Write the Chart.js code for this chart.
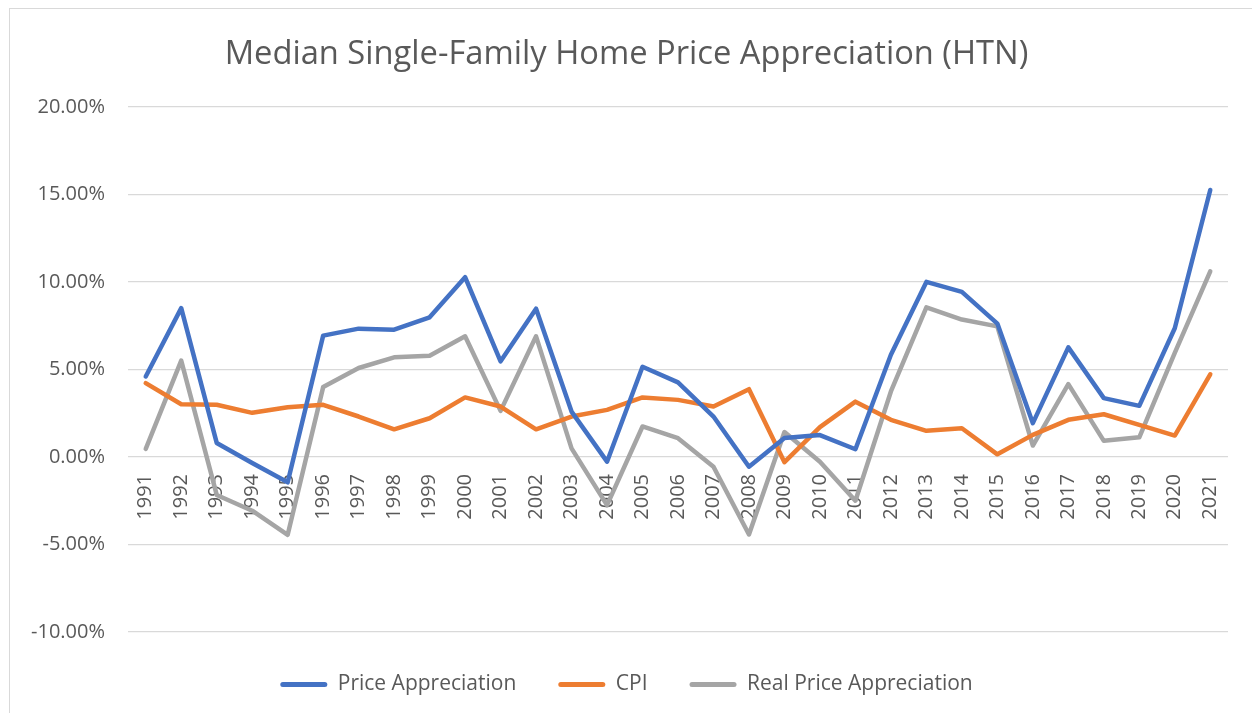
<!DOCTYPE html>
<html>
<head>
<meta charset="utf-8">
<script src="https://cdn.jsdelivr.net/npm/chart.js@4"></script>
<style>
  html, body { margin: 0; padding: 0; background: #fff; overflow: hidden; }
  #frame { position: absolute; left: 9px; top: 8px; width: 1400px; height: 900px; border: 1px solid #d9d9d9; }
  #wrap { position: absolute; left: 0; top: 0; width: 1252px; height: 713px; }
</style>
</head>
<body>
<div id="frame"></div>
<div id="wrap"><canvas id="chart" width="1252" height="713"></canvas></div>
<script>
// values in percent
const years = ["1991","1992","1993","1994","1995","1996","1997","1998","1999","2000",
  "2001","2002","2003","2004","2005","2006","2007","2008","2009","2010",
  "2011","2012","2013","2014","2015","2016","2017","2018","2019","2020","2021"];

const priceAppreciation = [4.6, 8.5, 0.8, -0.35, -1.45, 6.93, 7.33, 7.27, 7.98, 10.27,
  5.46, 8.47, 2.59, -0.27, 5.15, 4.26, 2.31, -0.56, 1.08, 1.25,
  0.44, 5.84, 10.0, 9.43, 7.62, 1.93, 6.26, 3.36, 2.92, 7.35, 15.25];

const cpi = [4.22, 3.01, 2.98, 2.52, 2.84, 2.98, 2.31, 1.58, 2.21, 3.4,
  2.88, 1.58, 2.31, 2.69, 3.4, 3.26, 2.88, 3.87, -0.3, 1.7,
  3.16, 2.12, 1.49, 1.64, 0.15, 1.26, 2.12, 2.44, 1.83, 1.22, 4.72];

const realAppreciation = [0.46, 5.5, -2.17, -3.07, -4.45, 3.99, 5.08, 5.69, 5.78, 6.89,
  2.63, 6.89, 0.49, -2.75, 1.74, 1.07, -0.56, -4.43, 1.42, -0.28,
  -2.5, 3.74, 8.55, 7.85, 7.46, 0.65, 4.16, 0.92, 1.12, 5.95, 10.6];

const yTicks = { min: -10, max: 20, step: 5 };

const textColor = "#595959";
const gridColor = "#d9d9d9";
const fontFamily = "'Open Sans', sans-serif";

function lineSet(label, data, color) {
  return {
    label,
    data,
    borderColor: color,
    backgroundColor: color,
    borderWidth: 4.5,
    borderJoinStyle: "round",
    borderCapStyle: "round",
    pointRadius: 0,
    pointHoverRadius: 0,
    tension: 0,
    fill: false,
  };
}

const ctx = document.getElementById("chart").getContext("2d");
new Chart(ctx, {
  type: "line",
  data: {
    labels: years,
    datasets: [
      lineSet("Price Appreciation", priceAppreciation, "#4472c4"),
      lineSet("CPI", cpi, "#ed7d31"),
      lineSet("Real Price Appreciation", realAppreciation, "#a5a5a5"),
    ],
  },
  options: {
    responsive: false,
    animation: false,
    // left padding nudges title/legend centre right; y axis width makes up the rest
    layout: { padding: { left: 25, right: 24, top: 0, bottom: 8 } },
    plugins: {
      title: {
        display: true,
        text: "Median Single-Family Home Price Appreciation (HTN)",
        color: textColor,
        font: { family: fontFamily, size: 32.7, weight: "normal", lineHeight: 1.2 },
        padding: { top: 35, bottom: 32.6 },
      },
      legend: {
        position: "bottom",
        labels: {
          color: textColor,
          font: { family: fontFamily, size: 21 },
          boxWidth: 47,
          boxHeight: 5,
          padding: 42,
          useBorderRadius: true,
          borderRadius: 2.5,
          generateLabels(chart) {
            return Chart.defaults.plugins.legend.labels.generateLabels(chart)
              .map(l => ({ ...l, lineWidth: 0, borderRadius: 2.5 }));
          },
        },
      },
      tooltip: { enabled: false },
    },
    scales: {
      x: {
        type: "category",
        position: { y: 0 },
        offset: true,
        grid: { display: false, drawTicks: false },
        border: { display: false },
        ticks: {
          color: textColor,
          font: { family: fontFamily, size: 20 },
          minRotation: 90,
          maxRotation: 90,
          autoSkip: false,
          padding: 17,
        },
      },
      y: {
        min: yTicks.min,
        max: yTicks.max,
        afterFit(scale) { scale.width = 103; },
        grid: { color: gridColor, lineWidth: 1.3, drawTicks: false },
        border: { display: false },
        ticks: {
          stepSize: yTicks.step,
          color: textColor,
          font: { family: fontFamily, size: 20 },
          padding: 23,
          callback: v => v.toFixed(2) + "%",
        },
      },
    },
  },
});
</script>
</body>
</html>
